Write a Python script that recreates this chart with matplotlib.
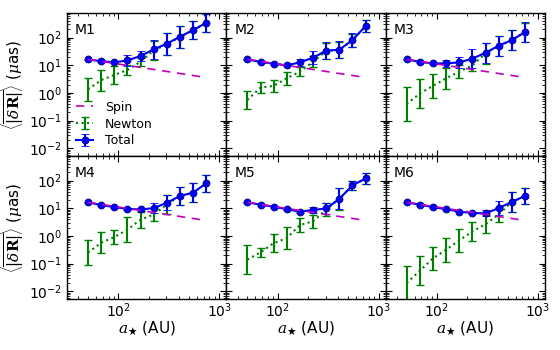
import matplotlib
matplotlib.use("Agg")
import matplotlib.pyplot as plt
import numpy as np
from matplotlib.ticker import LogLocator, NullFormatter

plt.rcParams['font.family'] = ['DejaVu Sans']
plt.rcParams['mathtext.fontset'] = 'custom'
plt.rcParams['mathtext.rm'] = 'DejaVu Sans'
plt.rcParams['mathtext.it'] = 'DejaVu Serif:italic'
plt.rcParams['mathtext.bf'] = 'DejaVu Serif:bold'
plt.rcParams['mathtext.sf'] = 'DejaVu Sans'

panels = ["M1", "M2", "M3", "M4", "M5", "M6"]
a_star = [50, 68, 91, 123, 166, 224, 303, 408, 551, 744]
spin = [16.5, 13.9, 11.8, 9.95, 8.41, 7.11, 6.01, 5.08, 4.31, 3.63]

total = [
    [16.5, 14.0, 12.8, 15.1, 21.7, 37.8, 60.7, 109, 189, 348],
    [16.5, 13.2, 11.5, 10.0, 12.8, 18.9, 33.9, 36.8, 82, 265],
    [16.5, 13.2, 11.8, 11.8, 12.8, 17.4, 28.7, 51.4, 82, 160],
    [16.5, 13.1, 11.1, 9.6, 9.1, 10.2, 16, 28, 37, 81],
    [16.5, 13.5, 11.4, 9.4, 7.5, 8.8, 9.9, 22, 68, 120],
    [16.5, 13.5, 11.1, 9.4, 7.6, 6.8, 6.6, 10.2, 17, 28],
]
total_err_dex = [
    [0.03, 0.03, 0.03, 0.20, 0.17, 0.35, 0.40, 0.40, 0.32, 0.32],
    [0.03, 0.03, 0.03, 0.03, 0.14, 0.23, 0.30, 0.30, 0.24, 0.22],
    [0.03, 0.03, 0.03, 0.13, 0.20, 0.34, 0.36, 0.36, 0.36, 0.35],
    [0.03, 0.03, 0.03, 0.03, 0.05, 0.18, 0.27, 0.34, 0.34, 0.31],
    [0.03, 0.03, 0.03, 0.03, 0.03, 0.12, 0.21, 0.38, 0.16, 0.20],
    [0.03, 0.03, 0.03, 0.03, 0.03, 0.03, 0.11, 0.26, 0.35, 0.30],
]
newton = [
    [1.36, 2.95, 4.5, 6.8, 13.5, 35, 58, 105, 185, 340],
    [0.56, 1.6, 1.8, 3.4, 5.9, 13.5, 33, 36, 80, 260],
    [0.4, 0.98, 1.8, 3.4, 5.9, 10, 27, 50, 80, 157],
    [0.25, 0.58, 0.91, 1.7, 3.9, 6.0, 13.7, 28, 37, 81],
    [0.14, 0.26, 0.55, 0.84, 2.5, 3.4, 9.1, 22, 68, 120],
    [0.02, 0.057, 0.155, 0.32, 0.69, 1.45, 2.7, 6.0, 17, 28],
]
newton_err_dex = [
    [0.42, 0.38, 0.31, 0.18, 0.15, 0.35, 0.40, 0.40, 0.32, 0.32],
    [0.34, 0.21, 0.21, 0.24, 0.17, 0.20, 0.30, 0.30, 0.24, 0.22],
    [0.63, 0.52, 0.43, 0.39, 0.23, 0.21, 0.38, 0.36, 0.36, 0.35],
    [0.45, 0.38, 0.26, 0.44, 0.29, 0.23, 0.34, 0.34, 0.34, 0.31],
    [0.52, 0.17, 0.32, 0.40, 0.27, 0.24, 0.24, 0.40, 0.16, 0.20],
    [0.62, 0.52, 0.41, 0.44, 0.41, 0.35, 0.34, 0.27, 0.35, 0.30],
]


def dex_err(vals, dex):
    v = np.asarray(vals, float)
    d = np.asarray(dex, float)
    return np.vstack([v - v * 10 ** (-d), v * 10 ** d - v])


fig, axes = plt.subplots(2, 3, figsize=(5.6, 3.5), dpi=100, sharex=True, sharey=True)
fig.subplots_adjust(left=67 / 560, right=545 / 560, top=1 - 13 / 350,
                    bottom=1 - 299 / 350, wspace=0, hspace=0)

for i, ax in enumerate(axes.flat):
    x = np.asarray(a_star, float)
    ax.plot(x, spin, color='m', ls='--', lw=1.2, dashes=(5, 4), zorder=4, label='Spin')
    ax.errorbar(x, newton[i], yerr=dex_err(newton[i], newton_err_dex[i]),
                color='g', ls=':', lw=1.5, elinewidth=1.5, capsize=3, capthick=1,
                zorder=2, label='Newton')
    ax.errorbar(x, total[i], yerr=dex_err(total[i], total_err_dex[i]),
                color='b', ls='-', lw=1.5, elinewidth=1.5, capsize=3, capthick=1,
                marker='o', ms=5, mfc='b', mec='#000080', mew=0.6,
                zorder=3, label='Total')
    ax.set_xscale('log')
    ax.set_yscale('log')
    ax.set_xlim(31, 1175)
    ax.set_ylim(5.3e-3, 7.8e2)
    ax.text(0.05, 0.88, panels[i], transform=ax.transAxes, fontsize=10,
            va='center', ha='left')
    ax.tick_params(which='both', direction='in', top=True, right=True, labelsize=10)
    ax.tick_params(which='major', length=4, width=0.8)
    ax.tick_params(which='minor', length=2, width=0.6)
    ax.tick_params(axis='x', which='major', pad=2)
    ax.yaxis.set_major_locator(LogLocator(base=10, numticks=10))
    ax.yaxis.set_minor_locator(LogLocator(base=10, subs=np.arange(2, 10), numticks=20))
    ax.yaxis.set_minor_formatter(NullFormatter())
    ax.xaxis.set_minor_formatter(NullFormatter())
    for s in ax.spines.values():
        s.set_linewidth(1.0)

for ax in axes[1]:
    ax.set_xlabel(r'$a_{★}$ (AU)', fontsize=11, labelpad=-1)
for ax in axes[:, 0]:
    ax.set_ylabel(r'$\left\langle\overline{|\delta\mathbf{R}|}\right\rangle$ ($\mu$as)',
                  fontsize=11, labelpad=2)

h, l = axes[0, 0].get_legend_handles_labels()
axes[0, 0].legend(h, l, loc='lower left', frameon=False, fontsize=9,
                  handlelength=1.4, handletextpad=0.95, borderaxespad=0.3,
                  labelspacing=0.3, bbox_to_anchor=(0.0, 0.0))

fig.savefig('out.png', dpi=100)
